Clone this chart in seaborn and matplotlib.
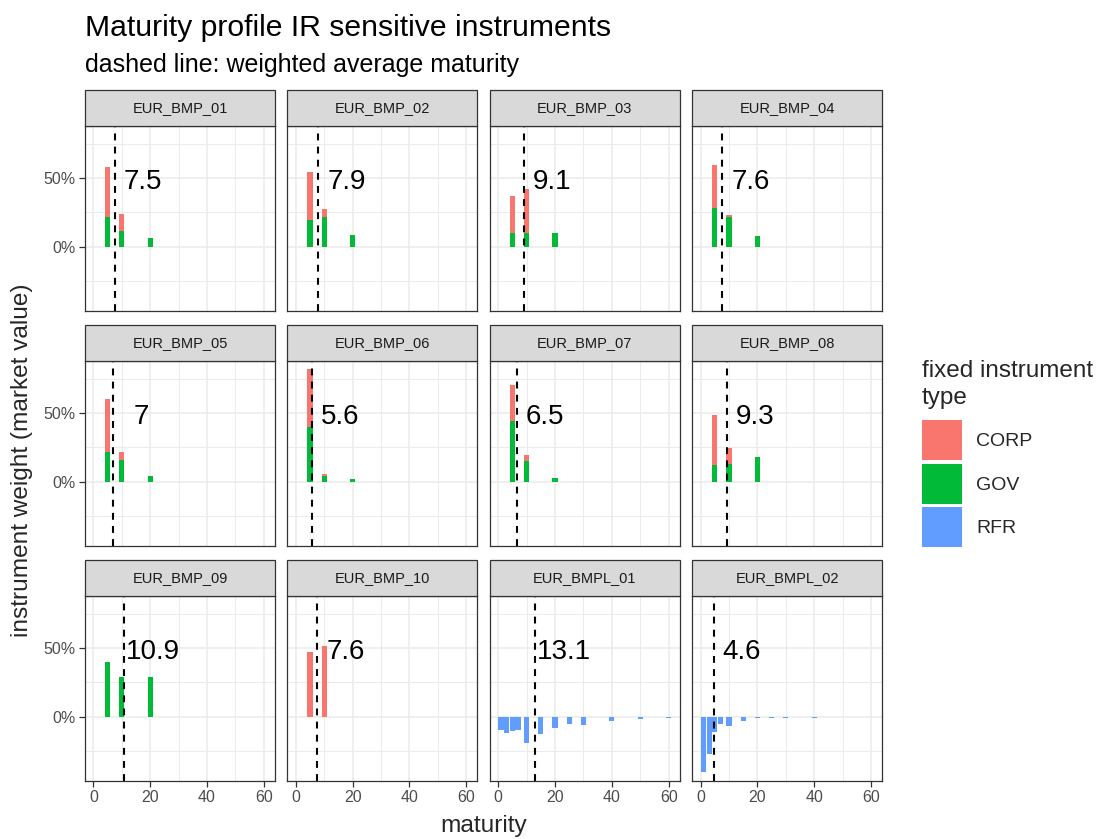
import numpy as np
import pandas as pd
import matplotlib
matplotlib.use("Agg")
import matplotlib.pyplot as plt
import seaborn as sns
from matplotlib.patches import Rectangle, Patch
from matplotlib.ticker import PercentFormatter, FixedLocator

# ---------------- data ----------------
portfolios = ["EUR_BMP_01", "EUR_BMP_02", "EUR_BMP_03", "EUR_BMP_04",
              "EUR_BMP_05", "EUR_BMP_06", "EUR_BMP_07", "EUR_BMP_08",
              "EUR_BMP_09", "EUR_BMP_10", "EUR_BMPL_01", "EUR_BMPL_02"]
instrument_types = ["CORP", "GOV", "RFR"]

fixed_portfolios = portfolios[:10]
fixed_maturity = [5, 10, 20]
gov_weight = [[21.7, 11.1, 6.5], [19.8, 21.7, 8.2], [9.7, 9.7, 10.1],
              [28.5, 21.7, 7.7], [21.5, 15.5, 3.9], [39.6, 4.1, 1.7],
              [44.4, 15.0, 2.4], [11.8, 12.6, 17.9], [40.3, 28.7, 28.7],
              [0.0, 0.0, 0.0]]
corp_weight = [[36.3, 13.1, 0.0], [34.8, 5.6, 0.0], [27.5, 32.6, 0.0],
               [31.2, 1.7, 0.0], [38.6, 6.2, 0.0], [42.5, 1.2, 0.0],
               [26.1, 4.8, 0.0], [37.0, 12.0, 0.0], [0.0, 0.0, 0.0],
               [47.3, 51.7, 0.0]]

rfr_portfolios = portfolios[10:]
rfr_maturity = [1, 3, 5, 7, 10, 15, 20, 25, 30, 40, 50, 60]
rfr_weight_bmpl_01 = [-9.5, -12.3, -10.8, -9.6, -19.3, -12.8, -8.2, -5.2, -5.9, -3.5, -1.5, -1.1]
rfr_weight_bmpl_02 = [-40.6, -27.1, -10.9, -5.6, -7.2, -3.1, -1.3, -1.0, -1.2, -1.0, 0.0, 0.0]

weighted_avg_maturity = [7.5, 7.9, 9.1, 7.6, 7, 5.6, 6.5, 9.3, 10.9, 7.6, 13.1, 4.6]

palette = {"CORP": "#F8766D", "GOV": "#00BA38", "RFR": "#619CFF"}

# ---------------- long table ----------------
rows = []
for p, g_w, c_w in zip(fixed_portfolios, gov_weight, corp_weight):
    for m, gv, cv in zip(fixed_maturity, g_w, c_w):
        rows.append((p, m, "GOV", gv))
        rows.append((p, m, "CORP", cv))
for p, w in zip(rfr_portfolios, [rfr_weight_bmpl_01, rfr_weight_bmpl_02]):
    for m, v in zip(rfr_maturity, w):
        rows.append((p, m, "RFR", v))
df = pd.DataFrame(rows, columns=["portfolio", "maturity", "type", "weight"])
wam = dict(zip(portfolios, weighted_avg_maturity))

all_mat = np.sort(df["maturity"].unique())
bar_width = 0.9 * np.min(np.diff(all_mat))

# ---------------- theme ----------------
sns.set_theme(style="white")
plt.rcParams["font.family"] = ["Liberation Sans", "DejaVu Sans"]

W, H = 1102, 839


def draw_panel(data, **kws):
    ax = plt.gca()
    pos_bottom = {}
    for t in ["GOV", "CORP", "RFR"]:
        sub = data[data["type"] == t]
        if sub.empty:
            continue
        x = sub["maturity"].to_numpy()
        y = sub["weight"].to_numpy()
        bottoms = np.array([pos_bottom.get(m, 0.0) if v >= 0 else 0.0 for m, v in zip(x, y)])
        ax.bar(x, y, width=bar_width, bottom=bottoms, color=palette[t],
               linewidth=0, zorder=2)
        for m, v, b in zip(x, y, bottoms):
            if v >= 0:
                pos_bottom[m] = b + v
    p = data["portfolio"].iloc[0]
    avg = wam[p]
    ax.axvline(avg, color="black", lw=1.5, linestyle=(0, (3.3, 3)), zorder=3)
    ax.annotate(f"{avg:g}", xy=(avg + 10, 50), xytext=(0, -4),
                textcoords="offset pixels", ha="center", va="center",
                fontsize=20, color="black", zorder=4)


g = sns.FacetGrid(df, col="portfolio", col_wrap=4, col_order=portfolios,
                  sharex=True, sharey=True, height=2.5, aspect=1.0,
                  despine=False)
g.map_dataframe(draw_panel)
fig = g.figure
fig.set_size_inches(W / 100, H / 100)

# limits with ggplot-like 5% expansion
totals = df[df["weight"] >= 0].groupby(["portfolio", "maturity"])["weight"].sum()
ymax = totals.max()
ymin = df["weight"].min()
yr = ymax - ymin
xlo = all_mat.min() - bar_width / 2
xhi = all_mat.max() + bar_width / 2
xr = xhi - xlo

left, right = 85 / W, 882.3 / W
top, bottom = 1 - 126 / H, 1 - 780.5 / H
fig.subplots_adjust(left=left, right=right, top=top, bottom=bottom,
                    wspace=12.3 / 190, hspace=50.5 / 184.5)

strip_h = 36 / 184.5
ncol = 4
for i, (p, ax) in enumerate(zip(portfolios, g.axes.flat)):
    ax.set_title("")
    ax.set_xlabel("")
    ax.set_ylabel("")
    ax.set_facecolor("white")
    ax.set_xlim(xlo - 0.05 * xr, xhi + 0.05 * xr)
    ax.set_ylim(ymin - 0.05 * yr, ymax + 0.05 * yr)
    ax.xaxis.set_major_locator(FixedLocator([0, 20, 40, 60]))
    ax.xaxis.set_minor_locator(FixedLocator([10, 30, 50]))
    ax.yaxis.set_major_locator(FixedLocator([0, 50]))
    ax.yaxis.set_minor_locator(FixedLocator([-25, 25, 75]))
    ax.yaxis.set_major_formatter(PercentFormatter(xmax=100, decimals=0))
    ax.grid(True, which="major", color="#EBEBEB", lw=1.1)
    ax.grid(True, which="minor", color="#EBEBEB", lw=0.7)
    ax.set_axisbelow(True)
    for s in ax.spines.values():
        s.set_visible(True)
        s.set_color("#333333")
        s.set_linewidth(0.9)
        s.set_zorder(5)
    ax.tick_params(axis="both", which="major", direction="out", length=4,
                   width=0.9, color="#333333", labelsize=11.5,
                   labelcolor="#4D4D4D", pad=2.5)
    ax.tick_params(axis="both", which="minor", length=0)
    row, col = divmod(i, ncol)
    is_bottom = row == 2
    is_left = col == 0
    ax.tick_params(axis="x", bottom=is_bottom, labelbottom=is_bottom)
    ax.tick_params(axis="y", left=is_left, labelleft=is_left)
    ax.add_patch(Rectangle((0, 1), 1, strip_h, transform=ax.transAxes,
                           clip_on=False, facecolor="#D9D9D9",
                           edgecolor="#333333", lw=0.9, zorder=6))
    ax.text(0.5, 1 + strip_h / 2, p, transform=ax.transAxes, ha="center",
            va="center", fontsize=10.5, color="#1A1A1A", zorder=7)

# titles
fig.text(85 / W, 1 - 36 / H, "Maturity profile IR sensitive instruments",
         fontsize=21.7, color="black", ha="left", va="baseline")
fig.text(85 / W, 1 - 72 / H, "dashed line: weighted average maturity",
         fontsize=18, color="black", ha="left", va="baseline")
fig.text((85 + 882.3) / 2 / W, 1 - 826 / H, "maturity", fontsize=17.6,
         ha="center", va="center")
fig.text(22 / W, 1 - 460 / H, "instrument weight (market value)",
         fontsize=17.6, ha="center", va="center", rotation=90)

handles = [Patch(facecolor=palette[t], edgecolor="none") for t in instrument_types]
leg = fig.legend(handles, instrument_types, title="fixed instrument\ntype",
                 loc="upper left", bbox_to_anchor=(921.7 / W, 1 - 360 / H),
                 frameon=False, fontsize=14, title_fontsize=17.5,
                 handlelength=2.06, handleheight=2.79, handletextpad=0.75,
                 labelspacing=0.18, borderpad=0, borderaxespad=0,
                 alignment="left")
leg.get_title().set_linespacing(1.3)
leg._legend_box.sep = 8

fig.savefig("out.png", dpi=100, facecolor="white")
